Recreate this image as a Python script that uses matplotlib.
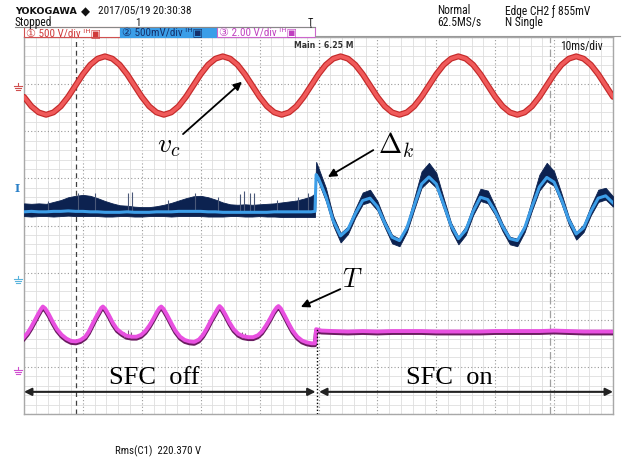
import numpy as np
import matplotlib
matplotlib.use("Agg")
import matplotlib.pyplot as plt
from matplotlib import font_manager, transforms
from matplotlib.lines import Line2D
from matplotlib.patches import Rectangle

# ---------------- data (time in ms, 10 ms/div; vertical in divisions, 0 = bottom, 8 = top) ----
t_vc = np.arange(0, 100.01, 1.25)
vc = [6.73, 6.53, 6.40, 6.35, 6.40, 6.53, 6.73, 6.97, 7.21, 7.41, 7.54, 7.59, 7.54, 7.41, 7.21, 6.97,
      6.73, 6.53, 6.40, 6.35, 6.40, 6.53, 6.73, 6.97, 7.21, 7.41, 7.54, 7.59, 7.54, 7.41, 7.21, 6.97,
      6.73, 6.53, 6.40, 6.35, 6.40, 6.53, 6.73, 6.97, 7.21, 7.41, 7.54, 7.59, 7.54, 7.41, 7.21, 6.97,
      6.73, 6.53, 6.40, 6.35, 6.40, 6.53, 6.73, 6.97, 7.21, 7.41, 7.54, 7.59, 7.54, 7.41, 7.21, 6.97,
      6.73, 6.53, 6.40, 6.35, 6.40, 6.53, 6.73, 6.97, 7.21, 7.41, 7.54, 7.59, 7.54, 7.41, 7.21, 6.97,
      6.73]

t_dk = list(np.arange(0, 48.76, 1.25)) + [49.4, 49.6] + list(np.arange(50, 100.01, 1.25))
dk_mid = [4.29, 4.30, 4.29, 4.29, 4.30, 4.30, 4.31, 4.30, 4.30, 4.29,
          4.29, 4.28, 4.28, 4.28, 4.29, 4.28, 4.28, 4.28, 4.29, 4.29,
          4.29, 4.30, 4.30, 4.30, 4.30, 4.29, 4.29, 4.28, 4.28, 4.28,
          4.28, 4.28, 4.28, 4.28, 4.29, 4.29, 4.29, 4.29, 4.29, 4.29, 4.30,
          5.08, 5.00, 4.62, 4.10, 3.78, 3.92, 4.25, 4.53, 4.58, 4.40,
          4.05, 3.75, 3.68, 3.95, 4.42, 4.88, 5.03, 4.88, 4.45, 4.00,
          3.72, 3.90, 4.30, 4.60, 4.55, 4.30, 3.98, 3.72, 3.68, 3.95,
          4.40, 4.82, 5.02, 4.92, 4.55, 4.12, 3.82, 3.95, 4.30, 4.58,
          4.63, 4.48]
dk_hi = [4.47, 4.46, 4.47, 4.46, 4.50, 4.54, 4.60, 4.63, 4.65, 4.63,
         4.58, 4.52, 4.47, 4.43, 4.42, 4.40, 4.39, 4.39, 4.41, 4.44,
         4.48, 4.53, 4.58, 4.62, 4.63, 4.60, 4.55, 4.49, 4.45, 4.44,
         4.45, 4.44, 4.45, 4.46, 4.47, 4.49, 4.51, 4.53, 4.57, 4.62, 4.68,
         5.35, 5.22, 4.80, 4.20, 3.84, 3.98, 4.36, 4.70, 4.76, 4.52,
         4.12, 3.80, 3.72, 4.02, 4.58, 5.15, 5.33, 5.12, 4.58, 4.06,
         3.76, 3.98, 4.42, 4.78, 4.74, 4.40, 4.04, 3.76, 3.72, 4.02,
         4.55, 5.08, 5.33, 5.15, 4.68, 4.18, 3.86, 4.02, 4.42, 4.76,
         4.80, 4.62]
dk_lo = [4.20, 4.19, 4.20, 4.20, 4.19, 4.20, 4.21, 4.20, 4.20, 4.20,
         4.20, 4.19, 4.19, 4.20, 4.20, 4.19, 4.19, 4.20, 4.20, 4.20,
         4.19, 4.20, 4.20, 4.20, 4.20, 4.19, 4.19, 4.19, 4.20, 4.20,
         4.19, 4.19, 4.20, 4.19, 4.19, 4.18, 4.18, 4.18, 4.18, 4.18, 4.18,
         5.00, 4.92, 4.52, 4.00, 3.64, 3.82, 4.17, 4.45, 4.50, 4.32,
         3.96, 3.62, 3.56, 3.86, 4.34, 4.80, 4.95, 4.80, 4.36, 3.90,
         3.60, 3.80, 4.22, 4.52, 4.47, 4.22, 3.88, 3.60, 3.56, 3.86,
         4.32, 4.74, 4.94, 4.84, 4.46, 4.02, 3.70, 3.86, 4.22, 4.50,
         4.55, 4.40]
dk_spike_t = [4.1, 9.2, 12.0, 17.6, 18.3, 24.4, 29.1, 33.0, 36.6, 37.4, 38.3, 39.1, 43.0, 46.5, 48.2]
dk_spike_v = [4.52, 4.70, 4.68, 4.68, 4.72, 4.54, 4.68, 4.60, 4.66, 4.74, 4.70, 4.68, 4.55, 4.60, 4.70]

t_T = [0.0, 0.6, 1.2, 1.8, 2.4, 2.9, 3.2, 3.6, 4.2, 4.9, 5.6, 6.4, 7.2, 8.0, 8.8, 9.6,
       10.4, 11.0, 11.6, 12.2, 12.8, 13.1, 13.4, 13.8, 14.4, 15.1, 15.8, 16.6, 17.4, 18.3, 19.1, 19.9,
       20.6, 21.3, 22.0, 22.6, 23.0, 23.3, 23.7, 24.3, 25.0, 25.7, 26.5, 27.3, 28.1, 28.9, 29.7,
       30.4, 31.1, 31.8, 32.5, 32.9, 33.2, 33.6, 34.2, 34.9, 35.6, 36.4, 37.2, 38.1, 38.9, 39.7,
       40.4, 41.1, 41.8, 42.4, 42.9, 43.2, 43.6, 44.2, 44.9, 45.6, 46.4, 47.2, 48.0, 48.8, 49.4,
       49.6, 50.5, 52.5, 55.0, 57.5, 60.0, 62.5, 65.0, 67.5, 70.0, 72.5, 75.0, 77.5, 80.0,
       82.5, 85.0, 87.5, 90.0, 92.5, 95.0, 97.5, 100.0]
T = [1.63, 1.72, 1.84, 1.98, 2.12, 2.23, 2.28, 2.24, 2.12, 1.95, 1.80, 1.68, 1.60, 1.55, 1.54, 1.57,
     1.64, 1.75, 1.90, 2.05, 2.18, 2.25, 2.28, 2.23, 2.10, 1.93, 1.80, 1.72, 1.66, 1.64, 1.64, 1.68,
     1.76, 1.88, 2.03, 2.17, 2.25, 2.28, 2.23, 2.10, 1.93, 1.77, 1.64, 1.57, 1.54, 1.53, 1.58,
     1.68, 1.83, 2.00, 2.15, 2.24, 2.29, 2.24, 2.11, 1.94, 1.80, 1.70, 1.65, 1.63, 1.63, 1.67,
     1.75, 1.88, 2.03, 2.17, 2.26, 2.29, 2.24, 2.10, 1.93, 1.77, 1.64, 1.56, 1.52, 1.50, 1.50,
     1.80, 1.77, 1.76, 1.75, 1.76, 1.75, 1.76, 1.76, 1.76, 1.75, 1.75, 1.75, 1.75, 1.76,
     1.76, 1.76, 1.76, 1.77, 1.76, 1.75, 1.75, 1.75]
T_spike_t = [17.0, 17.6, 18.2, 37.0, 37.6]
T_spike_v = [1.74, 1.78, 1.73, 1.74, 1.72]

cursor_a = 8.83      # ms, dashed cursor
cursor_b = 89.3      # ms, dash-dot cursor
switch_t = 49.8      # ms, SFC switched on
arrow_v = 0.47       # div, level of the interval arrows

# ---------------- fonts ----------------
avail = {f.name for f in font_manager.fontManager.ttflist}
narrow = 'Liberation Sans'
nscale = 0.85
for cand in ['Liberation Sans Narrow', 'Roboto Condensed', 'DejaVu Sans Condensed']:
    if cand in avail:
        narrow = cand
        nscale = 1.0
        break
HF = [narrow, 'DejaVu Sans', 'Noto Sans CJK JP']
plt.rcParams['font.family'] = ['DejaVu Sans', 'Noto Sans CJK JP']
plt.rcParams['mathtext.fontset'] = 'cm'

W, H = 622, 460
fig = plt.figure(figsize=(W / 100, H / 100), dpi=100)
fig.patch.set_facecolor('white')

def fx(x):
    return x / W

def fy(y):
    return 1 - y / H

L, R, TOP, BOT = 24, 613, 38, 415
ax = fig.add_axes([fx(L), fy(BOT), (R - L) / W, (BOT - TOP) / H])
ax.set_xlim(0, 100)
ax.set_ylim(0, 8)
ax.set_xticks(np.arange(0, 100.1, 10))
ax.set_yticks(np.arange(0, 8.1, 1))
ax.set_xticks(np.arange(0, 100.1, 2), minor=True)
ax.set_yticks(np.arange(0, 8.01, 0.2), minor=True)
ax.tick_params(which='both', length=0, labelbottom=False, labelleft=False)
ax.grid(which='minor', color='#dedede', lw=0.6)
ax.grid(which='major', color='#9a9a9a', lw=0.8, ls=(0, (1, 2)))
ax.set_axisbelow(True)
for s in ax.spines.values():
    s.set_color('#a8a8a8')
    s.set_linewidth(1.0)

# cursors
ax.axvline(cursor_a, color='#404040', lw=0.9, ls=(0, (4, 3)), zorder=1.5)
ax.axvline(cursor_b, color='#a0a0a0', lw=0.9, ls=(0, (6, 2, 1, 2)), zorder=1.5)

# ---- vc (red) ----
ax.plot(t_vc, vc, color='#c42a2a', lw=4.3, solid_capstyle='round', zorder=3)
ax.plot(t_vc, vc, color='#f05a5a', lw=2.6, solid_capstyle='round', zorder=3.1)

# ---- Delta_k (blue) ----
ax.fill_between(t_dk, dk_lo, dk_hi, color='#0c2250', lw=0.6, edgecolor='#0c2250', zorder=3)
ax.vlines(dk_spike_t, [4.3] * len(dk_spike_t), dk_spike_v, color='#4a5878', lw=0.8, zorder=3)
ax.plot(t_dk, dk_mid, color='#3d9ee8', lw=2.2, zorder=3.2)

# ---- T (magenta) ----
off = transforms.offset_copy(ax.transData, fig=fig, x=0, y=-1.8, units='dots')
ax.plot(t_T, T, color='#6a1c60', lw=3.0, transform=off, zorder=3)
ax.vlines(T_spike_t, [1.62] * len(T_spike_t), T_spike_v, color='#7a5a78', lw=0.8, zorder=3)
ax.plot(t_T, T, color='#e850e0', lw=2.8, zorder=3.1)

# switch marker
ax.plot([switch_t, switch_t], [0, T[t_T.index(49.6)]], color='black', lw=1.0, ls=(0, (1, 1.5)), zorder=4)

# interval arrows
ax.annotate('', xy=(0, arrow_v), xytext=(switch_t - 0.3, arrow_v),
            arrowprops=dict(arrowstyle='<|-|>', color='#222222', lw=1.5, mutation_scale=11,
                            shrinkA=0, shrinkB=0), zorder=5)
ax.annotate('', xy=(switch_t + 0.3, arrow_v), xytext=(100, arrow_v),
            arrowprops=dict(arrowstyle='<|-|>', color='#222222', lw=1.5, mutation_scale=11,
                            shrinkA=0, shrinkB=0), zorder=5)
ax.text(22.1, 0.79, 'SFC  off', family='Liberation Serif', fontsize=19, ha='center', va='center', zorder=6)
ax.text(72.2, 0.79, 'SFC  on', family='Liberation Serif', fontsize=19, ha='center', va='center', zorder=6)

# labels with arrows
ap = dict(arrowstyle='-|>', color='black', lw=1.3, mutation_scale=12, shrinkA=0, shrinkB=0)
ax.annotate('', xy=(37.0, 7.05), xytext=(27.0, 5.94), arrowprops=ap, zorder=6)
ax.text(24.6, 5.72, r'$v_c$', fontsize=20, ha='center', va='center', zorder=6)
ax.annotate('', xy=(51.6, 5.03), xytext=(59.3, 5.60), arrowprops=ap, zorder=6)
ax.text(63.2, 5.72, r'$\Delta_k$', fontsize=20, ha='center', va='center', zorder=6)
ax.annotate('', xy=(47.0, 2.27), xytext=(53.7, 2.65), arrowprops=ap, zorder=6)
ax.text(55.8, 2.86, r'$T$', fontsize=19, ha='center', va='center', zorder=6)

# ---------------- header ----------------
def htext(x, y, s, size=8, color='#111111', weight='normal', family=None, **kw):
    fig.text(fx(x), fy(y), s, fontsize=size * (nscale if family is None else 1.0), color=color,
             weight=weight, family=HF if family is None else family, va='center', ha='left', **kw)

htext(15, 12, 'YOKOGAWA', size=6.8, weight='bold', family=['DejaVu Sans'])
htext(81, 12, '\u25c6', size=8.5, family=['DejaVu Sans'])
htext(98, 11, '2017/05/19 20:30:38', size=8.0)
htext(15, 22.5, 'Stopped', size=8.3)
htext(135, 23.5, '1', size=7.8)
htext(308, 22.5, '\u0162', size=7.5)
htext(437, 11, 'Normal', size=8.3)
htext(437, 22.5, '62.5MS/s', size=8.3)
htext(505, 11, 'Edge CH2 \u0192 855mV', size=8.3)
htext(505, 22.5, 'N Single', size=8.3)

fig.add_artist(Line2D([fx(15), fx(315)], [fy(28), fy(28)], color='#888888', lw=0.8))
fig.add_artist(Line2D([fx(315), fx(620)], [fy(36.5), fy(36.5)], color='#999999', lw=0.8))
fig.add_artist(Rectangle((fx(24), fy(37.5)), fx(96), 9.5 / H, facecolor='white',
                         edgecolor='#d05050', lw=0.8))
fig.add_artist(Rectangle((fx(120), fy(37.5)), fx(97), 9.5 / H, facecolor='#3a9ee8',
                         edgecolor='#3a9ee8', lw=0.8))
fig.add_artist(Rectangle((fx(217), fy(37.5)), fx(98), 9.5 / H, facecolor='white',
                         edgecolor='#cc66cc', lw=0.8))
htext(26, 32.8, '\u2460 500 V/div \u1d35\u1d34\u25a3', size=8.0, color='#d03a3a')
htext(122, 32.8, '\u2461 500mV/div \u1d35\u1d34\u25a3', size=8.0, color='#15306a')
htext(219, 32.8, '\u2462 2.00 V/div \u1d35\u1d34\u25a3', size=8.0, color='#c040c0')

htext(294, 46, 'Main : 6.25 M', size=5.6, weight='bold', color='#333333', family=['DejaVu Sans'])
htext(560, 46.5, '10ms/div', size=8.3)
htext(115, 451, 'Rms(C1)  220.370 V', size=7.8)

# ---------------- left markers ----------------
def ground(yc, color):
    xs = 18
    fig.add_artist(Line2D([fx(xs), fx(xs)], [fy(yc - 4), fy(yc - 1.5)], color=color, lw=0.8))
    for dy, hw in [(-1.5, 4.0), (0.5, 3.0), (2.5, 2.0)]:
        fig.add_artist(Line2D([fx(xs - hw), fx(xs + hw)], [fy(yc + dy), fy(yc + dy)], color=color, lw=0.8))

ground(88, '#d05050')
ground(281, '#5ab4dc')
ground(372, '#d050d0')
fig.text(fx(15), fy(188), 'I', fontsize=8, color='#2a80c8', weight='bold',
         family=['DejaVu Serif'], va='center', ha='left')

fig.savefig('out.png', dpi=100, facecolor='white')
